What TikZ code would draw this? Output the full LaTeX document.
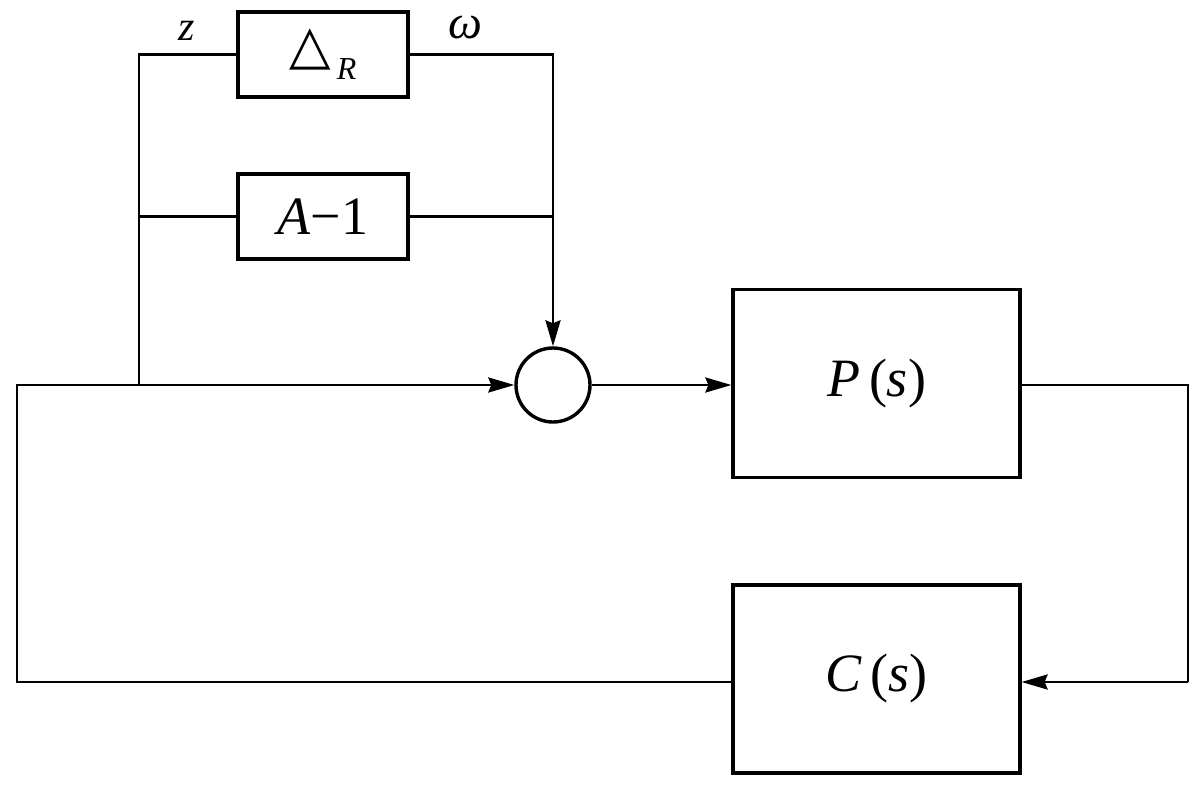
\documentclass[tikz,border=0pt]{standalone}
\usepackage{fontspec}
\setmainfont{Liberation Serif}
\newfontfamily\tms{Liberation Serif}
\newfontfamily\symf{DejaVu Sans}
\usetikzlibrary{arrows.meta}
\tikzset{
  blk/.style={draw, line width=3.2pt, minimum width=170pt, minimum height=85pt, inner sep=0pt},
  bigblk/.style={draw, line width=3.2pt, minimum width=287pt, minimum height=188pt, inner sep=0pt},
  wire/.style={line width=2.8pt},
  arr/.style={wire, -{Stealth[length=26pt,width=15pt,inset=3pt]}},
  lbl/.style={font=\tms\fontsize{42}{46}\selectfont\itshape, inner sep=0pt, anchor=base},
  big/.style={font=\tms\fontsize{54}{60}\selectfont}
}
\begin{document}
\begin{tikzpicture}[x=1pt,y=-1pt]
\useasboundingbox (0,0) rectangle (1200,787);
% blocks
\node[blk] (dr) at (323,54.5) {{\symf\fontsize{54}{60}\selectfont △}\kern6pt\raisebox{-16pt}{\tms\itshape\fontsize{32}{36}\selectfont R}};
\node[blk, big] (a1) at (323,216.5) {\textit{A}−1};
\node[draw, circle, line width=3.4pt, minimum size=74pt, inner sep=0pt] (sum) at (553,385) {};
\node[bigblk, big] (ps) at (876.5,383.5) {\textit{P}\,(\textit{s})};
\node[bigblk, big] (cs) at (876.5,679) {\textit{C}\,(\textit{s})};
% junction coordinates
\coordinate (jl) at (139,385);
\coordinate (lc) at (17,385);
% labels
\node[lbl] (zl) at (187,40) {z};
\node[lbl, font=\tms\fontsize{48}{52}\selectfont\itshape] (wl) at (465,38) {ω};
% wires
\draw[wire] (dr.west) -| (jl);
\draw[wire] (a1.west) -- (a1.west -| jl);
\draw[arr] (dr.east) -| (sum.north);
\draw[wire] (a1.east) -- (a1.east -| sum);
\draw[arr] (cs.west |- 0,682) -| (lc) -- (sum.west);
\draw[arr] (sum.east) -- (ps.west |- sum.east);
\draw[wire] (ps.east |- sum.east) -| (1188,682) coordinate (rb);
\draw[arr] (rb) -- (cs.east |- rb);
\end{tikzpicture}
\end{document}
